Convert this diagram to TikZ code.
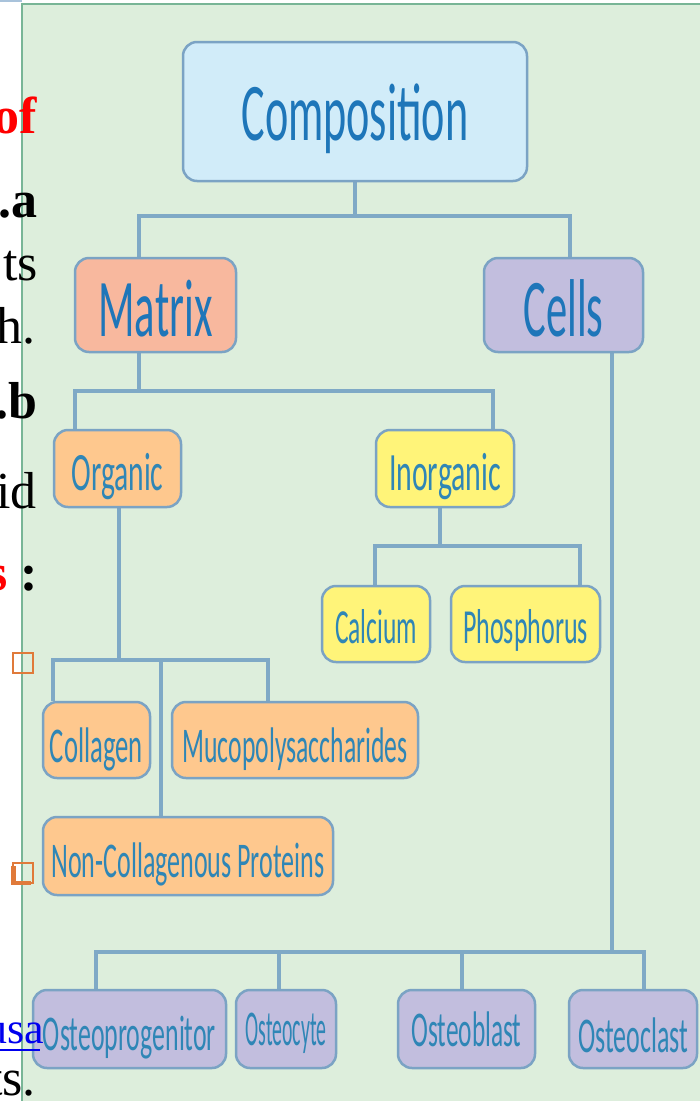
\documentclass[tikz,border=0pt]{standalone}
\usepackage{fontspec}
\setmainfont{Liberation Serif}
\newfontfamily\diagfont{Carlito}
\usetikzlibrary{calc}
\pgfdeclarelayer{bg}
\pgfsetlayers{bg,main}
\definecolor{panel}{HTML}{DDEEDC}
\definecolor{panelline}{HTML}{78B596}
\definecolor{topline}{HTML}{A9C3DB}
\definecolor{conncol}{HTML}{7FA9C6}
\definecolor{busline}{HTML}{86AFC9}
\definecolor{boxline}{HTML}{7BA3C4}
\definecolor{txtblue}{HTML}{1E76B9}
\definecolor{txtblue2}{HTML}{2F86B6}
\definecolor{fcomp}{HTML}{D1ECF9}
\definecolor{fmatrix}{HTML}{F8B89E}
\definecolor{fcells}{HTML}{C2BEDE}
\definecolor{forg}{HTML}{FEC88E}
\definecolor{finorg}{HTML}{FFF479}
\definecolor{bulletcol}{HTML}{E07A3A}
\definecolor{slidered}{HTML}{FF0000}
\definecolor{linkblue}{HTML}{0000EE}
\newcommand\boxlbl[4]{\raisebox{#1}[0pt][0pt]{\resizebox{#2}{\height}{\fontsize{#3}{#3}\selectfont #4}}}
\tikzset{
  conn/.style={draw=conncol, line width=3.2pt},
  diagbox/.style={draw=boxline, line width=2.5pt, rounded corners=14pt, inner sep=0pt, text=txtblue, font=\diagfont},
  smallbox/.style={diagbox, text=txtblue2},
  slidetxt/.style={anchor=base east, inner sep=0pt, font=\fontsize{52}{60}\selectfont},
  slidebold/.style={slidetxt, font=\fontsize{52}{60}\selectfont\bfseries},
}
\begin{document}
\begin{tikzpicture}[x=1pt, y=-1pt]
\useasboundingbox (0,0) rectangle (700,1101);
\begin{pgfonlayer}{bg}
\fill[panel] (22,4) rectangle (702,1103);
\draw[topline, line width=1.5pt] (0,0.8) -- (22,0.8);
\draw[panelline, line width=2.5pt] (22,1103) -- (22,4) -- (702,4);
\end{pgfonlayer}

% junction coordinates
\coordinate (bA) at (355,216); \coordinate (xA1) at (139,216); \coordinate (xA2) at (570,216);
\coordinate (bB) at (139,391); \coordinate (xB1) at (75,391);  \coordinate (xB2) at (493,391);
\coordinate (bC) at (440,546); \coordinate (xC1) at (375,546); \coordinate (xC2) at (580,546);
\coordinate (bD) at (119,660); \coordinate (xD1) at (53,660);  \coordinate (xD2) at (161,660); \coordinate (xD3) at (268,660);
\coordinate (bE) at (612,952); \coordinate (xE1) at (96,952);  \coordinate (xE2) at (279,952); \coordinate (xE3) at (462,952); \coordinate (xE4) at (644,952);

% boxes
\node[diagbox, fill=fcomp,   minimum width=344pt, minimum height=139pt] (comp)   at (355,111.5) {\boxlbl{-28.5pt}{227pt}{82}{Composition}};
\node[diagbox, fill=fmatrix, minimum width=161pt, minimum height=94pt]  (matrix) at (155.5,305) {\boxlbl{-31pt}{114pt}{82}{Matrix}};
\node[diagbox, fill=fcells,  minimum width=159pt, minimum height=94pt]  (cells)  at (563.5,305) {\boxlbl{-31pt}{80pt}{82}{Cells}};
\node[smallbox, fill=forg,   minimum width=127pt, minimum height=77pt]  (organic)   at (117.5,468.5) {\boxlbl{-21.5pt}{92pt}{54}{Organic}};
\node[smallbox, fill=finorg, minimum width=138pt, minimum height=77pt]  (inorganic) at (445,468.5) {\boxlbl{-21.5pt}{112pt}{54}{Inorganic}};
\node[smallbox, fill=finorg, minimum width=108pt, minimum height=76pt]  (calcium)   at (376,624) {\boxlbl{-19pt}{82pt}{49}{Calcium}};
\node[smallbox, fill=finorg, minimum width=149pt, minimum height=76pt]  (phosphorus) at (525.5,624) {\boxlbl{-19pt}{125pt}{49}{Phosphorus}};
\node[smallbox, fill=forg,   minimum width=107pt, minimum height=76pt]  (collagen)  at (96.5,740) {\boxlbl{-22pt}{93pt}{50}{Collagen}};
\node[smallbox, fill=forg,   minimum width=246pt, minimum height=76pt]  (muco)      at (295,740) {\boxlbl{-22pt}{225pt}{50}{Mucopolysaccharides}};
\node[smallbox, fill=forg,   minimum width=290pt, minimum height=78pt]  (noncol)    at (188,856) {\boxlbl{-21pt}{273pt}{50}{Non-Collagenous Proteins}};
\node[smallbox, fill=fcells, minimum width=193pt, minimum height=78pt]  (oprog)     at (129.5,1029) {\boxlbl{-21pt}{173pt}{50}{Osteoprogenitor}};
\node[smallbox, fill=fcells, minimum width=100pt, minimum height=78pt]  (ocyte)     at (286,1029) {\boxlbl{-16pt}{81pt}{50}{Osteocyte}};
\node[smallbox, fill=fcells, minimum width=137pt, minimum height=78pt]  (oblast)    at (466.5,1029) {\boxlbl{-17pt}{110pt}{50}{Osteoblast}};
\node[smallbox, fill=fcells, minimum width=128pt, minimum height=78pt]  (oclast)    at (633,1029) {\boxlbl{-23pt}{110pt}{50}{Osteoclast}};

% connectors (behind the boxes)
\begin{pgfonlayer}{bg}
\draw[conn] (comp.south) -- (bA);
\draw[conn] (matrix.north -| xA1) -- (xA1) -- (xA2) -- (cells.north -| xA2);
\draw[conn] (matrix.south -| bB) -- (bB);
\draw[conn] (organic.north -| xB1) -- (xB1) -- (xB2) -- (inorganic.north -| xB2);
\draw[conn] (inorganic.south -| bC) -- (bC);
\draw[conn] (calcium.north -| xC1) -- (xC1) -- (xC2) -- (phosphorus.north -| xC2);
\draw[conn] (organic.south -| bD) -- (bD);
\draw[conn] (collagen.north -| xD1) -- (xD1) -- (xD3) -- (muco.north -| xD3);
\draw[conn] (xD2) -- (noncol.north -| xD2);
\draw[conn] (cells.south -| bE) -- (bE);
\draw[conn] (oprog.north -| xE1) -- (xE1) -- (xE4) -- (oclast.north -| xE4);
\draw[conn] (xE2) -- (ocyte.north -| xE2);
\draw[conn] (xE3) -- (oblast.north -| xE3);
\end{pgfonlayer}

% bullets
\draw[bulletcol, line width=2pt] (13,653) rectangle (33,673);
\draw[bulletcol, line width=2pt] (13,863) rectangle (33,883);
\fill[bulletcol] (11,866) rectangle (15.5,885);
\fill[bulletcol] (11,880.5) rectangle (31,885);

% slide text cut at the left edge
\node[slidebold, text=slidered] (s1) at (37,133) {of};
\node[slidebold] (s2) at (38,217) {.a};
\node[slidetxt] (s3) at (38,280) {ts};
\node[slidetxt] (s4) at (36,343) {h.};
\node[slidebold] (s5) at (38,418) {.b};
\node[slidetxt] (s6) at (37,508) {id};
\node[slidebold] (s7) at (38,590) {\textcolor{slidered}{s} :};
\node[slidetxt, text=linkblue, font=\fontsize{44}{50}\selectfont] (s8) at (44,1043) {usa};
\draw[linkblue, line width=2pt] (0,1050) -- (40,1050);
\node[slidetxt] (s9) at (36,1095) {ts.};
\end{tikzpicture}
\end{document}
